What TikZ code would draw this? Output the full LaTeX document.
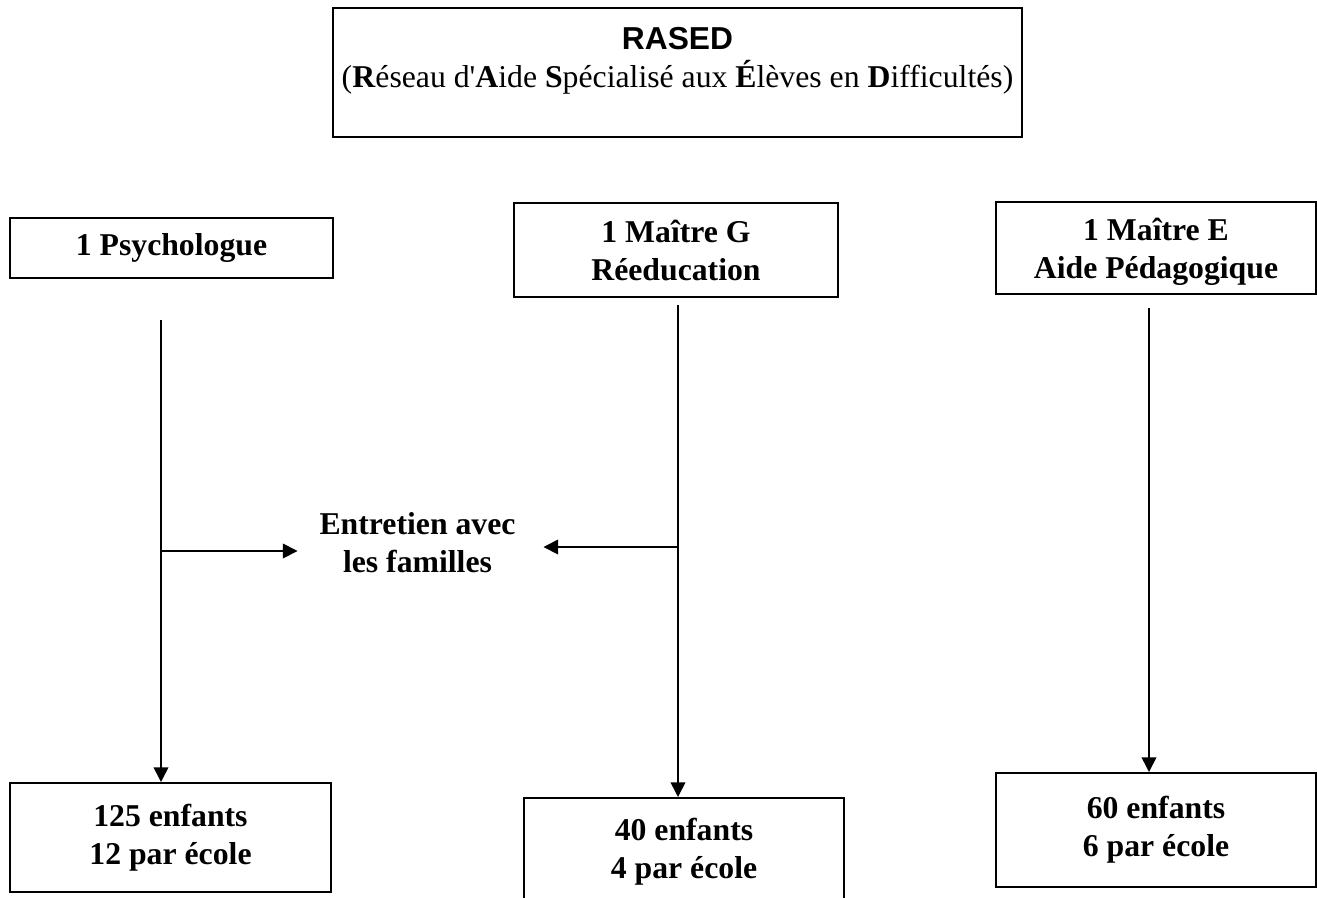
\documentclass[tikz,border=0pt]{standalone}
\usepackage{fontspec}
\setmainfont{Liberation Serif}[Ligatures=TeXOff]
\setsansfont{Liberation Sans}
\usetikzlibrary{arrows.meta}

\tikzset{every picture/.style={line width=1.2pt},
  box/.style={draw, line width=1.5pt, align=center, font=\fontsize{23.8}{28.5}\selectfont\bfseries},
  fleche/.style={-{Triangle[length=11pt,width=11pt]}}}

\begin{document}
\begin{tikzpicture}[x=0.75pt,y=0.75pt,yscale=-1,xscale=1]
\useasboundingbox (0,0) rectangle (1317,897);

%Shape: Rectangle [id:rased]
\node (rased) [box, font=\fontsize{23.8}{28.5}\selectfont, minimum width=516.75pt, minimum height=96.75pt] at (677.5,72.5) {{\sffamily\bfseries RASED}\\(\textbf{R}éseau d'\textbf{A}ide \textbf{S}pécialisé aux \textbf{É}lèves en \textbf{D}ifficultés)\\[-14pt]\strut};

%Shape: Rectangle [id:psy]
\node (psy) [box, minimum width=242.25pt, minimum height=45pt] at (171.5,248) {1 Psychologue};
%Shape: Rectangle [id:maitreg]
\node (maitreg) [box, minimum width=243pt, minimum height=70.5pt] at (676,250) {1 Maître G\\Réeducation};
%Shape: Rectangle [id:maitree]
\node (maitree) [box, text depth=0pt, minimum width=240pt, minimum height=69pt] at (1156,248) {1 Maître E\\Aide Pédagogique};

%Shape: Rectangle [id:enfpsy]
\node (enfpsy) [box, minimum width=240.75pt, minimum height=81.75pt] at (170.5,837.5) {125 enfants\\12 par école};
%Shape: Rectangle [id:enfg]
\node (enfg) [box, minimum width=240pt, minimum height=81pt] at (684,852) {40 enfants\\4 par école};
%Shape: Rectangle [id:enfe]
\node (enfe) [box, minimum width=240pt, minimum height=85.5pt] at (1156,830) {60 enfants\\6 par école};

% Text Node
\node (entretien) [box, draw=none, inner sep=15.75pt] at (417.5,543) {Entretien avec\\les familles};

%Straight Lines
\coordinate (psyv) at (161,320);
\coordinate (gv) at (678,305);
\coordinate (ev) at (1149,308);
\coordinate (psyh) at (161,551);
\coordinate (gh) at (678,547);

\draw [fleche] (psyv) -- (psyv |- enfpsy.north);
\draw [fleche] (gv) -- (gv |- enfg.north);
\draw [fleche] (ev) -- (ev |- enfe.north);

\draw [fleche] (psyh) -- (psyh -| entretien.west);
\draw [fleche, shorten >=4.5pt] (gh) -- (gh -| entretien.east);

\end{tikzpicture}
\end{document}
